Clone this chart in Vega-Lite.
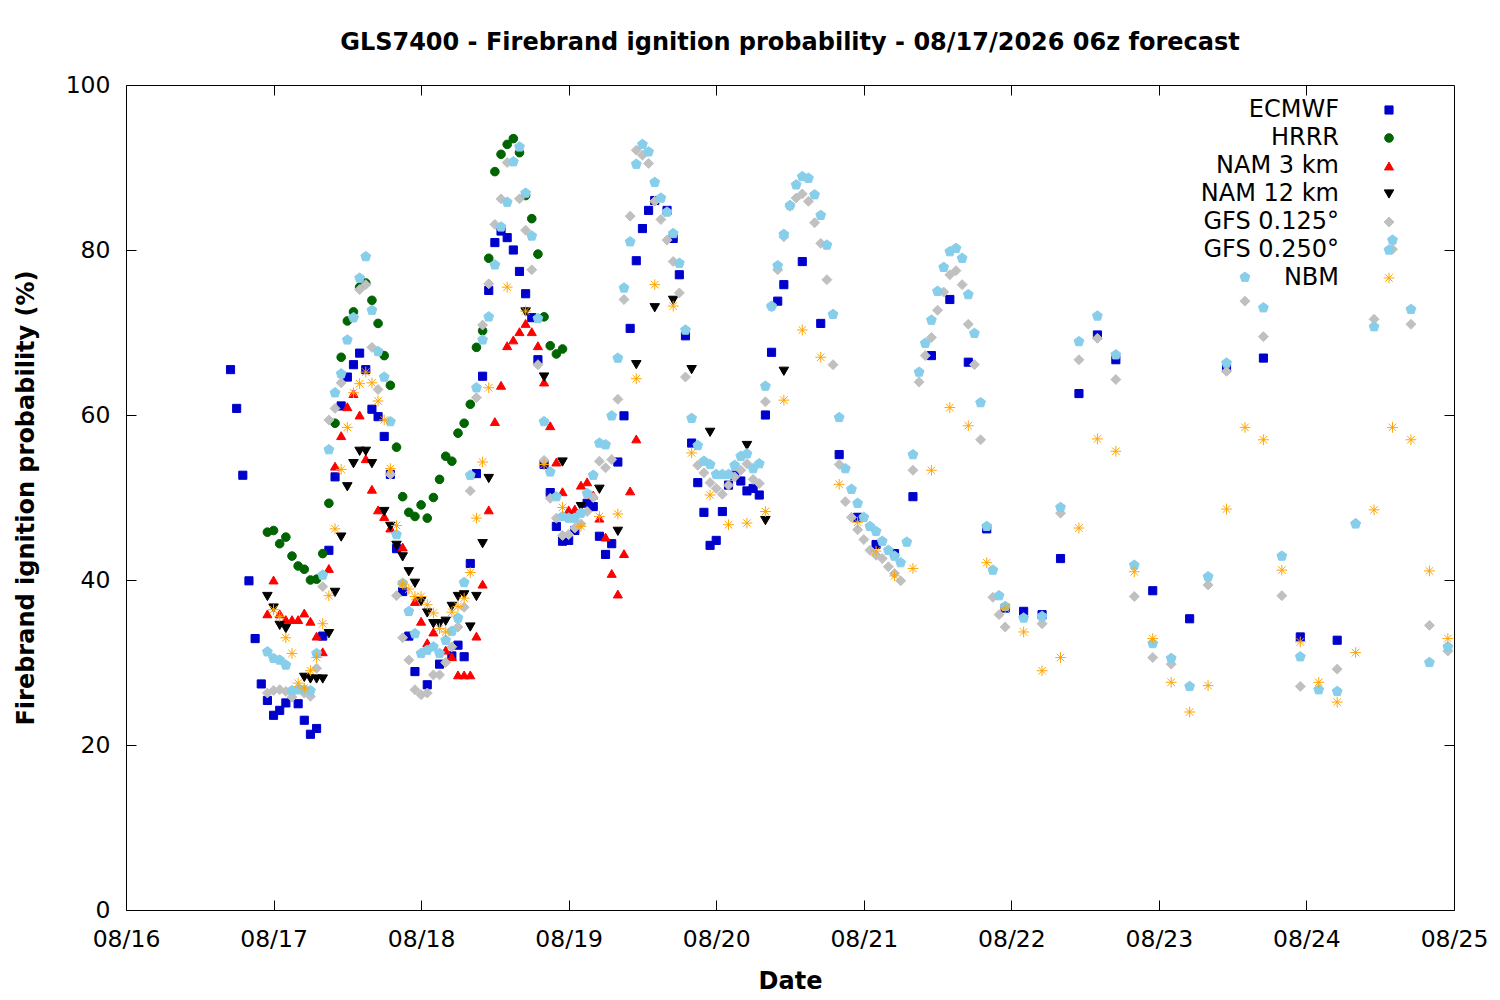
{
  "$schema": "https://vega.github.io/schema/vega-lite/v6.json",
  "width": 1328,
  "height": 825,
  "autosize": "none",
  "padding": {"left": 126, "top": 85, "right": 46, "bottom": 90},
  "title": {
    "text": "GLS7400 - Firebrand ignition probability - 08/17/2026 06z forecast",
    "font": "DejaVu Sans",
    "fontSize": 24,
    "fontWeight": "bold",
    "color": "black",
    "anchor": "middle",
    "offset": 18
  },
  "data": {
    "values": [
      {"model": "ECMWF", "time": "2026-08-16T17:00Z", "prob": 65.5},
      {"model": "ECMWF", "time": "2026-08-16T18:00Z", "prob": 60.8},
      {"model": "ECMWF", "time": "2026-08-16T19:00Z", "prob": 52.7},
      {"model": "ECMWF", "time": "2026-08-16T20:00Z", "prob": 39.9},
      {"model": "ECMWF", "time": "2026-08-16T21:00Z", "prob": 32.9},
      {"model": "ECMWF", "time": "2026-08-16T22:00Z", "prob": 27.4},
      {"model": "ECMWF", "time": "2026-08-16T23:00Z", "prob": 25.4},
      {"model": "ECMWF", "time": "2026-08-17T00:00Z", "prob": 23.6},
      {"model": "ECMWF", "time": "2026-08-17T01:00Z", "prob": 24.2},
      {"model": "ECMWF", "time": "2026-08-17T02:00Z", "prob": 25.1},
      {"model": "ECMWF", "time": "2026-08-17T04:00Z", "prob": 25.0},
      {"model": "ECMWF", "time": "2026-08-17T05:00Z", "prob": 23.0},
      {"model": "ECMWF", "time": "2026-08-17T06:00Z", "prob": 21.3},
      {"model": "ECMWF", "time": "2026-08-17T07:00Z", "prob": 22.0},
      {"model": "ECMWF", "time": "2026-08-17T08:00Z", "prob": 33.2},
      {"model": "ECMWF", "time": "2026-08-17T09:00Z", "prob": 43.6},
      {"model": "ECMWF", "time": "2026-08-17T10:00Z", "prob": 52.5},
      {"model": "ECMWF", "time": "2026-08-17T11:00Z", "prob": 61.1},
      {"model": "ECMWF", "time": "2026-08-17T12:00Z", "prob": 64.6},
      {"model": "ECMWF", "time": "2026-08-17T13:00Z", "prob": 66.1},
      {"model": "ECMWF", "time": "2026-08-17T14:00Z", "prob": 67.5},
      {"model": "ECMWF", "time": "2026-08-17T15:00Z", "prob": 65.5},
      {"model": "ECMWF", "time": "2026-08-17T16:00Z", "prob": 60.7},
      {"model": "ECMWF", "time": "2026-08-17T17:00Z", "prob": 59.8},
      {"model": "ECMWF", "time": "2026-08-17T18:00Z", "prob": 57.4},
      {"model": "ECMWF", "time": "2026-08-17T19:00Z", "prob": 52.8},
      {"model": "ECMWF", "time": "2026-08-17T20:00Z", "prob": 43.8},
      {"model": "ECMWF", "time": "2026-08-17T21:00Z", "prob": 38.6},
      {"model": "ECMWF", "time": "2026-08-17T22:00Z", "prob": 33.2},
      {"model": "ECMWF", "time": "2026-08-17T23:00Z", "prob": 28.9},
      {"model": "ECMWF", "time": "2026-08-18T01:00Z", "prob": 27.3},
      {"model": "ECMWF", "time": "2026-08-18T03:00Z", "prob": 29.8},
      {"model": "ECMWF", "time": "2026-08-18T05:00Z", "prob": 30.8},
      {"model": "ECMWF", "time": "2026-08-18T06:00Z", "prob": 32.1},
      {"model": "ECMWF", "time": "2026-08-18T07:00Z", "prob": 30.7},
      {"model": "ECMWF", "time": "2026-08-18T08:00Z", "prob": 42.0},
      {"model": "ECMWF", "time": "2026-08-18T09:00Z", "prob": 52.9},
      {"model": "ECMWF", "time": "2026-08-18T10:00Z", "prob": 64.7},
      {"model": "ECMWF", "time": "2026-08-18T11:00Z", "prob": 75.1},
      {"model": "ECMWF", "time": "2026-08-18T12:00Z", "prob": 80.9},
      {"model": "ECMWF", "time": "2026-08-18T13:00Z", "prob": 82.3},
      {"model": "ECMWF", "time": "2026-08-18T14:00Z", "prob": 81.5},
      {"model": "ECMWF", "time": "2026-08-18T15:00Z", "prob": 80.0},
      {"model": "ECMWF", "time": "2026-08-18T16:00Z", "prob": 77.4},
      {"model": "ECMWF", "time": "2026-08-18T17:00Z", "prob": 74.7},
      {"model": "ECMWF", "time": "2026-08-18T18:00Z", "prob": 71.8},
      {"model": "ECMWF", "time": "2026-08-18T19:00Z", "prob": 66.7},
      {"model": "ECMWF", "time": "2026-08-18T20:00Z", "prob": 54.0},
      {"model": "ECMWF", "time": "2026-08-18T21:00Z", "prob": 50.6},
      {"model": "ECMWF", "time": "2026-08-18T22:00Z", "prob": 46.5},
      {"model": "ECMWF", "time": "2026-08-18T23:00Z", "prob": 44.7},
      {"model": "ECMWF", "time": "2026-08-19T00:00Z", "prob": 44.8},
      {"model": "ECMWF", "time": "2026-08-19T01:00Z", "prob": 46.0},
      {"model": "ECMWF", "time": "2026-08-19T03:00Z", "prob": 49.3},
      {"model": "ECMWF", "time": "2026-08-19T04:00Z", "prob": 48.9},
      {"model": "ECMWF", "time": "2026-08-19T05:00Z", "prob": 45.3},
      {"model": "ECMWF", "time": "2026-08-19T06:00Z", "prob": 43.1},
      {"model": "ECMWF", "time": "2026-08-19T07:00Z", "prob": 44.4},
      {"model": "ECMWF", "time": "2026-08-19T08:00Z", "prob": 54.3},
      {"model": "ECMWF", "time": "2026-08-19T09:00Z", "prob": 59.9},
      {"model": "ECMWF", "time": "2026-08-19T10:00Z", "prob": 70.5},
      {"model": "ECMWF", "time": "2026-08-19T11:00Z", "prob": 78.7},
      {"model": "ECMWF", "time": "2026-08-19T12:00Z", "prob": 82.6},
      {"model": "ECMWF", "time": "2026-08-19T13:00Z", "prob": 84.8},
      {"model": "ECMWF", "time": "2026-08-19T14:00Z", "prob": 86.0},
      {"model": "ECMWF", "time": "2026-08-19T16:00Z", "prob": 84.8},
      {"model": "ECMWF", "time": "2026-08-19T17:00Z", "prob": 81.4},
      {"model": "ECMWF", "time": "2026-08-19T18:00Z", "prob": 77.0},
      {"model": "ECMWF", "time": "2026-08-19T19:00Z", "prob": 69.6},
      {"model": "ECMWF", "time": "2026-08-19T20:00Z", "prob": 56.6},
      {"model": "ECMWF", "time": "2026-08-19T21:00Z", "prob": 51.8},
      {"model": "ECMWF", "time": "2026-08-19T22:00Z", "prob": 48.2},
      {"model": "ECMWF", "time": "2026-08-19T23:00Z", "prob": 44.2},
      {"model": "ECMWF", "time": "2026-08-20T00:00Z", "prob": 44.8},
      {"model": "ECMWF", "time": "2026-08-20T01:00Z", "prob": 48.3},
      {"model": "ECMWF", "time": "2026-08-20T02:00Z", "prob": 51.5},
      {"model": "ECMWF", "time": "2026-08-20T03:00Z", "prob": 52.7},
      {"model": "ECMWF", "time": "2026-08-20T04:00Z", "prob": 52.0},
      {"model": "ECMWF", "time": "2026-08-20T05:00Z", "prob": 50.8},
      {"model": "ECMWF", "time": "2026-08-20T06:00Z", "prob": 51.1},
      {"model": "ECMWF", "time": "2026-08-20T07:00Z", "prob": 50.3},
      {"model": "ECMWF", "time": "2026-08-20T08:00Z", "prob": 60.0},
      {"model": "ECMWF", "time": "2026-08-20T09:00Z", "prob": 67.6},
      {"model": "ECMWF", "time": "2026-08-20T10:00Z", "prob": 73.8},
      {"model": "ECMWF", "time": "2026-08-20T11:00Z", "prob": 75.8},
      {"model": "ECMWF", "time": "2026-08-20T14:00Z", "prob": 78.6},
      {"model": "ECMWF", "time": "2026-08-20T17:00Z", "prob": 71.1},
      {"model": "ECMWF", "time": "2026-08-20T20:00Z", "prob": 55.2},
      {"model": "ECMWF", "time": "2026-08-20T23:00Z", "prob": 47.6},
      {"model": "ECMWF", "time": "2026-08-21T02:00Z", "prob": 44.3},
      {"model": "ECMWF", "time": "2026-08-21T05:00Z", "prob": 43.2},
      {"model": "ECMWF", "time": "2026-08-21T08:00Z", "prob": 50.1},
      {"model": "ECMWF", "time": "2026-08-21T11:00Z", "prob": 67.2},
      {"model": "ECMWF", "time": "2026-08-21T14:00Z", "prob": 74.0},
      {"model": "ECMWF", "time": "2026-08-21T17:00Z", "prob": 66.4},
      {"model": "ECMWF", "time": "2026-08-21T20:00Z", "prob": 46.2},
      {"model": "ECMWF", "time": "2026-08-21T23:00Z", "prob": 36.6},
      {"model": "ECMWF", "time": "2026-08-22T02:00Z", "prob": 36.2},
      {"model": "ECMWF", "time": "2026-08-22T05:00Z", "prob": 35.8},
      {"model": "ECMWF", "time": "2026-08-22T08:00Z", "prob": 42.6},
      {"model": "ECMWF", "time": "2026-08-22T11:00Z", "prob": 62.6},
      {"model": "ECMWF", "time": "2026-08-22T14:00Z", "prob": 69.7},
      {"model": "ECMWF", "time": "2026-08-22T17:00Z", "prob": 66.7},
      {"model": "ECMWF", "time": "2026-08-22T23:00Z", "prob": 38.7},
      {"model": "ECMWF", "time": "2026-08-23T05:00Z", "prob": 35.3},
      {"model": "ECMWF", "time": "2026-08-23T11:00Z", "prob": 65.7},
      {"model": "ECMWF", "time": "2026-08-23T17:00Z", "prob": 66.9},
      {"model": "ECMWF", "time": "2026-08-23T23:00Z", "prob": 33.1},
      {"model": "ECMWF", "time": "2026-08-24T05:00Z", "prob": 32.7},

      {"model": "HRRR", "time": "2026-08-16T23:00Z", "prob": 45.8},
      {"model": "HRRR", "time": "2026-08-17T00:00Z", "prob": 46.0},
      {"model": "HRRR", "time": "2026-08-17T01:00Z", "prob": 44.4},
      {"model": "HRRR", "time": "2026-08-17T02:00Z", "prob": 45.2},
      {"model": "HRRR", "time": "2026-08-17T03:00Z", "prob": 42.9},
      {"model": "HRRR", "time": "2026-08-17T04:00Z", "prob": 41.7},
      {"model": "HRRR", "time": "2026-08-17T05:00Z", "prob": 41.3},
      {"model": "HRRR", "time": "2026-08-17T06:00Z", "prob": 40.0},
      {"model": "HRRR", "time": "2026-08-17T07:00Z", "prob": 40.1},
      {"model": "HRRR", "time": "2026-08-17T08:00Z", "prob": 43.2},
      {"model": "HRRR", "time": "2026-08-17T09:00Z", "prob": 49.3},
      {"model": "HRRR", "time": "2026-08-17T10:00Z", "prob": 59.0},
      {"model": "HRRR", "time": "2026-08-17T11:00Z", "prob": 67.0},
      {"model": "HRRR", "time": "2026-08-17T12:00Z", "prob": 71.4},
      {"model": "HRRR", "time": "2026-08-17T13:00Z", "prob": 72.5},
      {"model": "HRRR", "time": "2026-08-17T14:00Z", "prob": 75.5},
      {"model": "HRRR", "time": "2026-08-17T15:00Z", "prob": 76.0},
      {"model": "HRRR", "time": "2026-08-17T16:00Z", "prob": 73.9},
      {"model": "HRRR", "time": "2026-08-17T17:00Z", "prob": 71.1},
      {"model": "HRRR", "time": "2026-08-17T18:00Z", "prob": 67.2},
      {"model": "HRRR", "time": "2026-08-17T19:00Z", "prob": 63.6},
      {"model": "HRRR", "time": "2026-08-17T20:00Z", "prob": 56.1},
      {"model": "HRRR", "time": "2026-08-17T21:00Z", "prob": 50.1},
      {"model": "HRRR", "time": "2026-08-17T22:00Z", "prob": 48.2},
      {"model": "HRRR", "time": "2026-08-17T23:00Z", "prob": 47.7},
      {"model": "HRRR", "time": "2026-08-18T00:00Z", "prob": 49.1},
      {"model": "HRRR", "time": "2026-08-18T01:00Z", "prob": 47.5},
      {"model": "HRRR", "time": "2026-08-18T02:00Z", "prob": 50.0},
      {"model": "HRRR", "time": "2026-08-18T03:00Z", "prob": 52.2},
      {"model": "HRRR", "time": "2026-08-18T04:00Z", "prob": 55.0},
      {"model": "HRRR", "time": "2026-08-18T05:00Z", "prob": 54.4},
      {"model": "HRRR", "time": "2026-08-18T06:00Z", "prob": 57.8},
      {"model": "HRRR", "time": "2026-08-18T07:00Z", "prob": 59.0},
      {"model": "HRRR", "time": "2026-08-18T08:00Z", "prob": 61.3},
      {"model": "HRRR", "time": "2026-08-18T09:00Z", "prob": 68.2},
      {"model": "HRRR", "time": "2026-08-18T10:00Z", "prob": 70.2},
      {"model": "HRRR", "time": "2026-08-18T11:00Z", "prob": 79.0},
      {"model": "HRRR", "time": "2026-08-18T12:00Z", "prob": 89.5},
      {"model": "HRRR", "time": "2026-08-18T13:00Z", "prob": 91.6},
      {"model": "HRRR", "time": "2026-08-18T14:00Z", "prob": 92.8},
      {"model": "HRRR", "time": "2026-08-18T15:00Z", "prob": 93.5},
      {"model": "HRRR", "time": "2026-08-18T16:00Z", "prob": 91.8},
      {"model": "HRRR", "time": "2026-08-18T17:00Z", "prob": 86.6},
      {"model": "HRRR", "time": "2026-08-18T18:00Z", "prob": 83.8},
      {"model": "HRRR", "time": "2026-08-18T19:00Z", "prob": 79.5},
      {"model": "HRRR", "time": "2026-08-18T20:00Z", "prob": 71.9},
      {"model": "HRRR", "time": "2026-08-18T21:00Z", "prob": 68.4},
      {"model": "HRRR", "time": "2026-08-18T22:00Z", "prob": 67.4},
      {"model": "HRRR", "time": "2026-08-18T23:00Z", "prob": 68.0},

      {"model": "NAM 3 km", "time": "2026-08-16T23:00Z", "prob": 35.9},
      {"model": "NAM 3 km", "time": "2026-08-17T00:00Z", "prob": 40.0},
      {"model": "NAM 3 km", "time": "2026-08-17T01:00Z", "prob": 35.9},
      {"model": "NAM 3 km", "time": "2026-08-17T02:00Z", "prob": 35.2},
      {"model": "NAM 3 km", "time": "2026-08-17T03:00Z", "prob": 35.2},
      {"model": "NAM 3 km", "time": "2026-08-17T04:00Z", "prob": 35.2},
      {"model": "NAM 3 km", "time": "2026-08-17T05:00Z", "prob": 36.0},
      {"model": "NAM 3 km", "time": "2026-08-17T06:00Z", "prob": 35.0},
      {"model": "NAM 3 km", "time": "2026-08-17T07:00Z", "prob": 33.2},
      {"model": "NAM 3 km", "time": "2026-08-17T08:00Z", "prob": 31.3},
      {"model": "NAM 3 km", "time": "2026-08-17T09:00Z", "prob": 41.4},
      {"model": "NAM 3 km", "time": "2026-08-17T10:00Z", "prob": 53.8},
      {"model": "NAM 3 km", "time": "2026-08-17T11:00Z", "prob": 57.5},
      {"model": "NAM 3 km", "time": "2026-08-17T12:00Z", "prob": 61.0},
      {"model": "NAM 3 km", "time": "2026-08-17T13:00Z", "prob": 62.6},
      {"model": "NAM 3 km", "time": "2026-08-17T14:00Z", "prob": 60.0},
      {"model": "NAM 3 km", "time": "2026-08-17T15:00Z", "prob": 54.7},
      {"model": "NAM 3 km", "time": "2026-08-17T16:00Z", "prob": 51.0},
      {"model": "NAM 3 km", "time": "2026-08-17T17:00Z", "prob": 48.5},
      {"model": "NAM 3 km", "time": "2026-08-17T18:00Z", "prob": 47.7},
      {"model": "NAM 3 km", "time": "2026-08-17T19:00Z", "prob": 46.3},
      {"model": "NAM 3 km", "time": "2026-08-17T21:00Z", "prob": 44.0},
      {"model": "NAM 3 km", "time": "2026-08-17T23:00Z", "prob": 37.4},
      {"model": "NAM 3 km", "time": "2026-08-18T00:00Z", "prob": 35.0},
      {"model": "NAM 3 km", "time": "2026-08-18T01:00Z", "prob": 32.4},
      {"model": "NAM 3 km", "time": "2026-08-18T02:00Z", "prob": 33.7},
      {"model": "NAM 3 km", "time": "2026-08-18T04:00Z", "prob": 31.5},
      {"model": "NAM 3 km", "time": "2026-08-18T05:00Z", "prob": 30.7},
      {"model": "NAM 3 km", "time": "2026-08-18T06:00Z", "prob": 28.5},
      {"model": "NAM 3 km", "time": "2026-08-18T07:00Z", "prob": 28.5},
      {"model": "NAM 3 km", "time": "2026-08-18T08:00Z", "prob": 28.5},
      {"model": "NAM 3 km", "time": "2026-08-18T09:00Z", "prob": 33.2},
      {"model": "NAM 3 km", "time": "2026-08-18T10:00Z", "prob": 39.5},
      {"model": "NAM 3 km", "time": "2026-08-18T11:00Z", "prob": 48.5},
      {"model": "NAM 3 km", "time": "2026-08-18T12:00Z", "prob": 59.2},
      {"model": "NAM 3 km", "time": "2026-08-18T13:00Z", "prob": 63.6},
      {"model": "NAM 3 km", "time": "2026-08-18T14:00Z", "prob": 68.4},
      {"model": "NAM 3 km", "time": "2026-08-18T15:00Z", "prob": 69.1},
      {"model": "NAM 3 km", "time": "2026-08-18T16:00Z", "prob": 70.1},
      {"model": "NAM 3 km", "time": "2026-08-18T17:00Z", "prob": 71.1},
      {"model": "NAM 3 km", "time": "2026-08-18T18:00Z", "prob": 70.1},
      {"model": "NAM 3 km", "time": "2026-08-18T19:00Z", "prob": 68.4},
      {"model": "NAM 3 km", "time": "2026-08-18T20:00Z", "prob": 64.0},
      {"model": "NAM 3 km", "time": "2026-08-18T21:00Z", "prob": 58.7},
      {"model": "NAM 3 km", "time": "2026-08-18T22:00Z", "prob": 54.3},
      {"model": "NAM 3 km", "time": "2026-08-18T23:00Z", "prob": 50.7},
      {"model": "NAM 3 km", "time": "2026-08-19T00:00Z", "prob": 48.5},
      {"model": "NAM 3 km", "time": "2026-08-19T01:00Z", "prob": 48.6},
      {"model": "NAM 3 km", "time": "2026-08-19T02:00Z", "prob": 51.5},
      {"model": "NAM 3 km", "time": "2026-08-19T03:00Z", "prob": 51.9},
      {"model": "NAM 3 km", "time": "2026-08-19T04:00Z", "prob": 50.3},
      {"model": "NAM 3 km", "time": "2026-08-19T05:00Z", "prob": 47.5},
      {"model": "NAM 3 km", "time": "2026-08-19T06:00Z", "prob": 45.2},
      {"model": "NAM 3 km", "time": "2026-08-19T07:00Z", "prob": 40.8},
      {"model": "NAM 3 km", "time": "2026-08-19T08:00Z", "prob": 38.3},
      {"model": "NAM 3 km", "time": "2026-08-19T09:00Z", "prob": 43.2},
      {"model": "NAM 3 km", "time": "2026-08-19T10:00Z", "prob": 50.8},
      {"model": "NAM 3 km", "time": "2026-08-19T11:00Z", "prob": 57.1},

      {"model": "NAM 12 km", "time": "2026-08-16T23:00Z", "prob": 38.0},
      {"model": "NAM 12 km", "time": "2026-08-17T00:00Z", "prob": 36.6},
      {"model": "NAM 12 km", "time": "2026-08-17T01:00Z", "prob": 34.5},
      {"model": "NAM 12 km", "time": "2026-08-17T02:00Z", "prob": 34.1},
      {"model": "NAM 12 km", "time": "2026-08-17T05:00Z", "prob": 28.2},
      {"model": "NAM 12 km", "time": "2026-08-17T06:00Z", "prob": 28.0},
      {"model": "NAM 12 km", "time": "2026-08-17T07:00Z", "prob": 28.0},
      {"model": "NAM 12 km", "time": "2026-08-17T08:00Z", "prob": 28.0},
      {"model": "NAM 12 km", "time": "2026-08-17T09:00Z", "prob": 33.5},
      {"model": "NAM 12 km", "time": "2026-08-17T10:00Z", "prob": 38.5},
      {"model": "NAM 12 km", "time": "2026-08-17T11:00Z", "prob": 45.2},
      {"model": "NAM 12 km", "time": "2026-08-17T12:00Z", "prob": 51.3},
      {"model": "NAM 12 km", "time": "2026-08-17T13:00Z", "prob": 54.1},
      {"model": "NAM 12 km", "time": "2026-08-17T14:00Z", "prob": 55.6},
      {"model": "NAM 12 km", "time": "2026-08-17T15:00Z", "prob": 55.6},
      {"model": "NAM 12 km", "time": "2026-08-17T16:00Z", "prob": 54.1},
      {"model": "NAM 12 km", "time": "2026-08-17T18:00Z", "prob": 48.3},
      {"model": "NAM 12 km", "time": "2026-08-17T19:00Z", "prob": 46.5},
      {"model": "NAM 12 km", "time": "2026-08-17T20:00Z", "prob": 44.2},
      {"model": "NAM 12 km", "time": "2026-08-17T21:00Z", "prob": 42.8},
      {"model": "NAM 12 km", "time": "2026-08-17T22:00Z", "prob": 41.0},
      {"model": "NAM 12 km", "time": "2026-08-17T23:00Z", "prob": 39.6},
      {"model": "NAM 12 km", "time": "2026-08-18T00:00Z", "prob": 37.4},
      {"model": "NAM 12 km", "time": "2026-08-18T01:00Z", "prob": 36.0},
      {"model": "NAM 12 km", "time": "2026-08-18T02:00Z", "prob": 34.7},
      {"model": "NAM 12 km", "time": "2026-08-18T03:00Z", "prob": 34.7},
      {"model": "NAM 12 km", "time": "2026-08-18T04:00Z", "prob": 35.0},
      {"model": "NAM 12 km", "time": "2026-08-18T05:00Z", "prob": 36.8},
      {"model": "NAM 12 km", "time": "2026-08-18T06:00Z", "prob": 38.0},
      {"model": "NAM 12 km", "time": "2026-08-18T07:00Z", "prob": 38.2},
      {"model": "NAM 12 km", "time": "2026-08-18T08:00Z", "prob": 34.3},
      {"model": "NAM 12 km", "time": "2026-08-18T09:00Z", "prob": 38.0},
      {"model": "NAM 12 km", "time": "2026-08-18T10:00Z", "prob": 44.4},
      {"model": "NAM 12 km", "time": "2026-08-18T11:00Z", "prob": 52.3},
      {"model": "NAM 12 km", "time": "2026-08-18T17:00Z", "prob": 72.5},
      {"model": "NAM 12 km", "time": "2026-08-18T20:00Z", "prob": 64.6},
      {"model": "NAM 12 km", "time": "2026-08-18T23:00Z", "prob": 54.3},
      {"model": "NAM 12 km", "time": "2026-08-19T02:00Z", "prob": 48.9},
      {"model": "NAM 12 km", "time": "2026-08-19T05:00Z", "prob": 51.0},
      {"model": "NAM 12 km", "time": "2026-08-19T08:00Z", "prob": 45.9},
      {"model": "NAM 12 km", "time": "2026-08-19T11:00Z", "prob": 66.1},
      {"model": "NAM 12 km", "time": "2026-08-19T14:00Z", "prob": 73.0},
      {"model": "NAM 12 km", "time": "2026-08-19T17:00Z", "prob": 73.9},
      {"model": "NAM 12 km", "time": "2026-08-19T20:00Z", "prob": 65.5},
      {"model": "NAM 12 km", "time": "2026-08-19T23:00Z", "prob": 57.9},
      {"model": "NAM 12 km", "time": "2026-08-20T05:00Z", "prob": 56.3},
      {"model": "NAM 12 km", "time": "2026-08-20T08:00Z", "prob": 47.2},
      {"model": "NAM 12 km", "time": "2026-08-20T11:00Z", "prob": 65.3},

      {"model": "GFS 0.125°", "time": "2026-08-16T23:00Z", "prob": 26.3},
      {"model": "GFS 0.125°", "time": "2026-08-17T00:00Z", "prob": 26.6},
      {"model": "GFS 0.125°", "time": "2026-08-17T01:00Z", "prob": 26.7},
      {"model": "GFS 0.125°", "time": "2026-08-17T02:00Z", "prob": 26.5},
      {"model": "GFS 0.125°", "time": "2026-08-17T03:00Z", "prob": 25.8},
      {"model": "GFS 0.125°", "time": "2026-08-17T05:00Z", "prob": 26.3},
      {"model": "GFS 0.125°", "time": "2026-08-17T06:00Z", "prob": 25.9},
      {"model": "GFS 0.125°", "time": "2026-08-17T07:00Z", "prob": 29.3},
      {"model": "GFS 0.125°", "time": "2026-08-17T08:00Z", "prob": 39.2},
      {"model": "GFS 0.125°", "time": "2026-08-17T09:00Z", "prob": 59.4},
      {"model": "GFS 0.125°", "time": "2026-08-17T10:00Z", "prob": 60.8},
      {"model": "GFS 0.125°", "time": "2026-08-17T11:00Z", "prob": 63.9},
      {"model": "GFS 0.125°", "time": "2026-08-17T13:00Z", "prob": 71.8},
      {"model": "GFS 0.125°", "time": "2026-08-17T14:00Z", "prob": 75.2},
      {"model": "GFS 0.125°", "time": "2026-08-17T15:00Z", "prob": 75.8},
      {"model": "GFS 0.125°", "time": "2026-08-17T16:00Z", "prob": 68.2},
      {"model": "GFS 0.125°", "time": "2026-08-17T17:00Z", "prob": 63.1},
      {"model": "GFS 0.125°", "time": "2026-08-17T19:00Z", "prob": 52.8},
      {"model": "GFS 0.125°", "time": "2026-08-17T20:00Z", "prob": 38.1},
      {"model": "GFS 0.125°", "time": "2026-08-17T21:00Z", "prob": 33.0},
      {"model": "GFS 0.125°", "time": "2026-08-17T22:00Z", "prob": 30.3},
      {"model": "GFS 0.125°", "time": "2026-08-17T23:00Z", "prob": 26.7},
      {"model": "GFS 0.125°", "time": "2026-08-18T00:00Z", "prob": 26.1},
      {"model": "GFS 0.125°", "time": "2026-08-18T01:00Z", "prob": 26.3},
      {"model": "GFS 0.125°", "time": "2026-08-18T02:00Z", "prob": 28.5},
      {"model": "GFS 0.125°", "time": "2026-08-18T03:00Z", "prob": 28.5},
      {"model": "GFS 0.125°", "time": "2026-08-18T04:00Z", "prob": 30.0},
      {"model": "GFS 0.125°", "time": "2026-08-18T05:00Z", "prob": 31.9},
      {"model": "GFS 0.125°", "time": "2026-08-18T06:00Z", "prob": 34.3},
      {"model": "GFS 0.125°", "time": "2026-08-18T07:00Z", "prob": 36.7},
      {"model": "GFS 0.125°", "time": "2026-08-18T08:00Z", "prob": 50.8},
      {"model": "GFS 0.125°", "time": "2026-08-18T09:00Z", "prob": 62.1},
      {"model": "GFS 0.125°", "time": "2026-08-18T10:00Z", "prob": 70.9},
      {"model": "GFS 0.125°", "time": "2026-08-18T11:00Z", "prob": 75.9},
      {"model": "GFS 0.125°", "time": "2026-08-18T12:00Z", "prob": 83.1},
      {"model": "GFS 0.125°", "time": "2026-08-18T13:00Z", "prob": 86.2},
      {"model": "GFS 0.125°", "time": "2026-08-18T14:00Z", "prob": 90.6},
      {"model": "GFS 0.125°", "time": "2026-08-18T16:00Z", "prob": 86.2},
      {"model": "GFS 0.125°", "time": "2026-08-18T17:00Z", "prob": 82.4},
      {"model": "GFS 0.125°", "time": "2026-08-18T18:00Z", "prob": 77.6},
      {"model": "GFS 0.125°", "time": "2026-08-18T19:00Z", "prob": 66.1},
      {"model": "GFS 0.125°", "time": "2026-08-18T20:00Z", "prob": 54.5},
      {"model": "GFS 0.125°", "time": "2026-08-18T21:00Z", "prob": 49.9},
      {"model": "GFS 0.125°", "time": "2026-08-18T22:00Z", "prob": 47.5},
      {"model": "GFS 0.125°", "time": "2026-08-18T23:00Z", "prob": 45.4},
      {"model": "GFS 0.125°", "time": "2026-08-19T00:00Z", "prob": 45.5},
      {"model": "GFS 0.125°", "time": "2026-08-19T01:00Z", "prob": 46.3},
      {"model": "GFS 0.125°", "time": "2026-08-19T02:00Z", "prob": 46.8},
      {"model": "GFS 0.125°", "time": "2026-08-19T03:00Z", "prob": 48.3},
      {"model": "GFS 0.125°", "time": "2026-08-19T04:00Z", "prob": 50.0},
      {"model": "GFS 0.125°", "time": "2026-08-19T05:00Z", "prob": 54.4},
      {"model": "GFS 0.125°", "time": "2026-08-19T06:00Z", "prob": 53.6},
      {"model": "GFS 0.125°", "time": "2026-08-19T07:00Z", "prob": 54.6},
      {"model": "GFS 0.125°", "time": "2026-08-19T08:00Z", "prob": 61.9},
      {"model": "GFS 0.125°", "time": "2026-08-19T09:00Z", "prob": 74.0},
      {"model": "GFS 0.125°", "time": "2026-08-19T10:00Z", "prob": 84.1},
      {"model": "GFS 0.125°", "time": "2026-08-19T11:00Z", "prob": 92.1},
      {"model": "GFS 0.125°", "time": "2026-08-19T12:00Z", "prob": 91.5},
      {"model": "GFS 0.125°", "time": "2026-08-19T13:00Z", "prob": 90.5},
      {"model": "GFS 0.125°", "time": "2026-08-19T14:00Z", "prob": 85.9},
      {"model": "GFS 0.125°", "time": "2026-08-19T15:00Z", "prob": 83.7},
      {"model": "GFS 0.125°", "time": "2026-08-19T16:00Z", "prob": 81.2},
      {"model": "GFS 0.125°", "time": "2026-08-19T17:00Z", "prob": 78.6},
      {"model": "GFS 0.125°", "time": "2026-08-19T18:00Z", "prob": 74.8},
      {"model": "GFS 0.125°", "time": "2026-08-19T19:00Z", "prob": 64.6},
      {"model": "GFS 0.125°", "time": "2026-08-19T21:00Z", "prob": 53.9},
      {"model": "GFS 0.125°", "time": "2026-08-19T22:00Z", "prob": 53.0},
      {"model": "GFS 0.125°", "time": "2026-08-19T23:00Z", "prob": 51.8},
      {"model": "GFS 0.125°", "time": "2026-08-20T00:00Z", "prob": 51.1},
      {"model": "GFS 0.125°", "time": "2026-08-20T01:00Z", "prob": 50.4},
      {"model": "GFS 0.125°", "time": "2026-08-20T02:00Z", "prob": 51.5},
      {"model": "GFS 0.125°", "time": "2026-08-20T03:00Z", "prob": 52.5},
      {"model": "GFS 0.125°", "time": "2026-08-20T04:00Z", "prob": 53.3},
      {"model": "GFS 0.125°", "time": "2026-08-20T05:00Z", "prob": 54.1},
      {"model": "GFS 0.125°", "time": "2026-08-20T06:00Z", "prob": 52.2},
      {"model": "GFS 0.125°", "time": "2026-08-20T07:00Z", "prob": 51.7},
      {"model": "GFS 0.125°", "time": "2026-08-20T08:00Z", "prob": 61.6},
      {"model": "GFS 0.125°", "time": "2026-08-20T09:00Z", "prob": 73.1},
      {"model": "GFS 0.125°", "time": "2026-08-20T10:00Z", "prob": 77.6},
      {"model": "GFS 0.125°", "time": "2026-08-20T11:00Z", "prob": 81.6},
      {"model": "GFS 0.125°", "time": "2026-08-20T12:00Z", "prob": 85.3},
      {"model": "GFS 0.125°", "time": "2026-08-20T13:00Z", "prob": 86.3},
      {"model": "GFS 0.125°", "time": "2026-08-20T14:00Z", "prob": 86.8},
      {"model": "GFS 0.125°", "time": "2026-08-20T15:00Z", "prob": 85.9},
      {"model": "GFS 0.125°", "time": "2026-08-20T16:00Z", "prob": 83.3},
      {"model": "GFS 0.125°", "time": "2026-08-20T17:00Z", "prob": 80.8},
      {"model": "GFS 0.125°", "time": "2026-08-20T18:00Z", "prob": 76.4},
      {"model": "GFS 0.125°", "time": "2026-08-20T19:00Z", "prob": 66.1},
      {"model": "GFS 0.125°", "time": "2026-08-20T20:00Z", "prob": 54.0},
      {"model": "GFS 0.125°", "time": "2026-08-20T21:00Z", "prob": 49.5},
      {"model": "GFS 0.125°", "time": "2026-08-20T22:00Z", "prob": 47.6},
      {"model": "GFS 0.125°", "time": "2026-08-20T23:00Z", "prob": 46.1},
      {"model": "GFS 0.125°", "time": "2026-08-21T00:00Z", "prob": 44.9},
      {"model": "GFS 0.125°", "time": "2026-08-21T01:00Z", "prob": 43.6},
      {"model": "GFS 0.125°", "time": "2026-08-21T02:00Z", "prob": 43.0},
      {"model": "GFS 0.125°", "time": "2026-08-21T03:00Z", "prob": 42.6},
      {"model": "GFS 0.125°", "time": "2026-08-21T04:00Z", "prob": 41.6},
      {"model": "GFS 0.125°", "time": "2026-08-21T05:00Z", "prob": 40.8},
      {"model": "GFS 0.125°", "time": "2026-08-21T06:00Z", "prob": 39.9},
      {"model": "GFS 0.125°", "time": "2026-08-21T08:00Z", "prob": 53.3},
      {"model": "GFS 0.125°", "time": "2026-08-21T09:00Z", "prob": 64.0},
      {"model": "GFS 0.125°", "time": "2026-08-21T10:00Z", "prob": 67.2},
      {"model": "GFS 0.125°", "time": "2026-08-21T11:00Z", "prob": 69.4},
      {"model": "GFS 0.125°", "time": "2026-08-21T12:00Z", "prob": 72.7},
      {"model": "GFS 0.125°", "time": "2026-08-21T13:00Z", "prob": 74.9},
      {"model": "GFS 0.125°", "time": "2026-08-21T14:00Z", "prob": 77.0},
      {"model": "GFS 0.125°", "time": "2026-08-21T15:00Z", "prob": 77.5},
      {"model": "GFS 0.125°", "time": "2026-08-21T16:00Z", "prob": 75.8},
      {"model": "GFS 0.125°", "time": "2026-08-21T17:00Z", "prob": 71.0},
      {"model": "GFS 0.125°", "time": "2026-08-21T18:00Z", "prob": 66.1},
      {"model": "GFS 0.125°", "time": "2026-08-21T19:00Z", "prob": 57.0},
      {"model": "GFS 0.125°", "time": "2026-08-21T21:00Z", "prob": 37.9},
      {"model": "GFS 0.125°", "time": "2026-08-21T22:00Z", "prob": 35.8},
      {"model": "GFS 0.125°", "time": "2026-08-21T23:00Z", "prob": 34.3},
      {"model": "GFS 0.125°", "time": "2026-08-22T05:00Z", "prob": 34.7},
      {"model": "GFS 0.125°", "time": "2026-08-22T08:00Z", "prob": 48.1},
      {"model": "GFS 0.125°", "time": "2026-08-22T11:00Z", "prob": 66.7},
      {"model": "GFS 0.125°", "time": "2026-08-22T14:00Z", "prob": 69.3},
      {"model": "GFS 0.125°", "time": "2026-08-22T17:00Z", "prob": 64.3},
      {"model": "GFS 0.125°", "time": "2026-08-22T20:00Z", "prob": 38.0},
      {"model": "GFS 0.125°", "time": "2026-08-22T23:00Z", "prob": 30.6},
      {"model": "GFS 0.125°", "time": "2026-08-23T02:00Z", "prob": 29.8},
      {"model": "GFS 0.125°", "time": "2026-08-23T08:00Z", "prob": 39.4},
      {"model": "GFS 0.125°", "time": "2026-08-23T11:00Z", "prob": 65.3},
      {"model": "GFS 0.125°", "time": "2026-08-23T14:00Z", "prob": 73.8},
      {"model": "GFS 0.125°", "time": "2026-08-23T17:00Z", "prob": 69.5},
      {"model": "GFS 0.125°", "time": "2026-08-23T20:00Z", "prob": 38.1},
      {"model": "GFS 0.125°", "time": "2026-08-23T23:00Z", "prob": 27.1},
      {"model": "GFS 0.125°", "time": "2026-08-24T05:00Z", "prob": 29.2},
      {"model": "GFS 0.125°", "time": "2026-08-24T08:00Z", "prob": 46.9},
      {"model": "GFS 0.125°", "time": "2026-08-24T11:00Z", "prob": 71.6},
      {"model": "GFS 0.125°", "time": "2026-08-24T14:00Z", "prob": 80.1},
      {"model": "GFS 0.125°", "time": "2026-08-24T17:00Z", "prob": 71.0},
      {"model": "GFS 0.125°", "time": "2026-08-24T20:00Z", "prob": 34.5},
      {"model": "GFS 0.125°", "time": "2026-08-24T23:00Z", "prob": 31.4},

      {"model": "GFS 0.250°", "time": "2026-08-16T23:00Z", "prob": 31.3},
      {"model": "GFS 0.250°", "time": "2026-08-17T00:00Z", "prob": 30.5},
      {"model": "GFS 0.250°", "time": "2026-08-17T01:00Z", "prob": 30.3},
      {"model": "GFS 0.250°", "time": "2026-08-17T02:00Z", "prob": 29.7},
      {"model": "GFS 0.250°", "time": "2026-08-17T03:00Z", "prob": 26.6},
      {"model": "GFS 0.250°", "time": "2026-08-17T04:00Z", "prob": 26.7},
      {"model": "GFS 0.250°", "time": "2026-08-17T05:00Z", "prob": 26.7},
      {"model": "GFS 0.250°", "time": "2026-08-17T06:00Z", "prob": 26.6},
      {"model": "GFS 0.250°", "time": "2026-08-17T07:00Z", "prob": 31.1},
      {"model": "GFS 0.250°", "time": "2026-08-17T08:00Z", "prob": 40.6},
      {"model": "GFS 0.250°", "time": "2026-08-17T09:00Z", "prob": 55.8},
      {"model": "GFS 0.250°", "time": "2026-08-17T10:00Z", "prob": 62.7},
      {"model": "GFS 0.250°", "time": "2026-08-17T11:00Z", "prob": 65.0},
      {"model": "GFS 0.250°", "time": "2026-08-17T12:00Z", "prob": 69.1},
      {"model": "GFS 0.250°", "time": "2026-08-17T13:00Z", "prob": 71.8},
      {"model": "GFS 0.250°", "time": "2026-08-17T14:00Z", "prob": 76.6},
      {"model": "GFS 0.250°", "time": "2026-08-17T15:00Z", "prob": 79.2},
      {"model": "GFS 0.250°", "time": "2026-08-17T16:00Z", "prob": 72.7},
      {"model": "GFS 0.250°", "time": "2026-08-17T17:00Z", "prob": 67.7},
      {"model": "GFS 0.250°", "time": "2026-08-17T18:00Z", "prob": 64.6},
      {"model": "GFS 0.250°", "time": "2026-08-17T19:00Z", "prob": 59.2},
      {"model": "GFS 0.250°", "time": "2026-08-17T20:00Z", "prob": 45.5},
      {"model": "GFS 0.250°", "time": "2026-08-17T21:00Z", "prob": 39.6},
      {"model": "GFS 0.250°", "time": "2026-08-17T22:00Z", "prob": 36.2},
      {"model": "GFS 0.250°", "time": "2026-08-17T23:00Z", "prob": 33.5},
      {"model": "GFS 0.250°", "time": "2026-08-18T00:00Z", "prob": 31.1},
      {"model": "GFS 0.250°", "time": "2026-08-18T01:00Z", "prob": 31.5},
      {"model": "GFS 0.250°", "time": "2026-08-18T02:00Z", "prob": 31.9},
      {"model": "GFS 0.250°", "time": "2026-08-18T03:00Z", "prob": 31.1},
      {"model": "GFS 0.250°", "time": "2026-08-18T04:00Z", "prob": 32.7},
      {"model": "GFS 0.250°", "time": "2026-08-18T05:00Z", "prob": 33.8},
      {"model": "GFS 0.250°", "time": "2026-08-18T06:00Z", "prob": 35.4},
      {"model": "GFS 0.250°", "time": "2026-08-18T07:00Z", "prob": 39.7},
      {"model": "GFS 0.250°", "time": "2026-08-18T08:00Z", "prob": 52.7},
      {"model": "GFS 0.250°", "time": "2026-08-18T09:00Z", "prob": 63.3},
      {"model": "GFS 0.250°", "time": "2026-08-18T10:00Z", "prob": 69.1},
      {"model": "GFS 0.250°", "time": "2026-08-18T11:00Z", "prob": 71.9},
      {"model": "GFS 0.250°", "time": "2026-08-18T12:00Z", "prob": 78.2},
      {"model": "GFS 0.250°", "time": "2026-08-18T13:00Z", "prob": 82.8},
      {"model": "GFS 0.250°", "time": "2026-08-18T14:00Z", "prob": 85.8},
      {"model": "GFS 0.250°", "time": "2026-08-18T15:00Z", "prob": 90.7},
      {"model": "GFS 0.250°", "time": "2026-08-18T16:00Z", "prob": 92.5},
      {"model": "GFS 0.250°", "time": "2026-08-18T17:00Z", "prob": 86.9},
      {"model": "GFS 0.250°", "time": "2026-08-18T18:00Z", "prob": 81.7},
      {"model": "GFS 0.250°", "time": "2026-08-18T19:00Z", "prob": 71.7},
      {"model": "GFS 0.250°", "time": "2026-08-18T20:00Z", "prob": 59.2},
      {"model": "GFS 0.250°", "time": "2026-08-18T21:00Z", "prob": 53.1},
      {"model": "GFS 0.250°", "time": "2026-08-18T22:00Z", "prob": 50.1},
      {"model": "GFS 0.250°", "time": "2026-08-18T23:00Z", "prob": 47.7},
      {"model": "GFS 0.250°", "time": "2026-08-19T00:00Z", "prob": 47.5},
      {"model": "GFS 0.250°", "time": "2026-08-19T01:00Z", "prob": 47.5},
      {"model": "GFS 0.250°", "time": "2026-08-19T02:00Z", "prob": 48.1},
      {"model": "GFS 0.250°", "time": "2026-08-19T03:00Z", "prob": 50.5},
      {"model": "GFS 0.250°", "time": "2026-08-19T04:00Z", "prob": 52.7},
      {"model": "GFS 0.250°", "time": "2026-08-19T05:00Z", "prob": 56.6},
      {"model": "GFS 0.250°", "time": "2026-08-19T06:00Z", "prob": 56.4},
      {"model": "GFS 0.250°", "time": "2026-08-19T07:00Z", "prob": 59.9},
      {"model": "GFS 0.250°", "time": "2026-08-19T08:00Z", "prob": 66.9},
      {"model": "GFS 0.250°", "time": "2026-08-19T09:00Z", "prob": 75.4},
      {"model": "GFS 0.250°", "time": "2026-08-19T10:00Z", "prob": 81.0},
      {"model": "GFS 0.250°", "time": "2026-08-19T11:00Z", "prob": 90.4},
      {"model": "GFS 0.250°", "time": "2026-08-19T12:00Z", "prob": 92.8},
      {"model": "GFS 0.250°", "time": "2026-08-19T13:00Z", "prob": 91.9},
      {"model": "GFS 0.250°", "time": "2026-08-19T14:00Z", "prob": 88.2},
      {"model": "GFS 0.250°", "time": "2026-08-19T15:00Z", "prob": 86.3},
      {"model": "GFS 0.250°", "time": "2026-08-19T16:00Z", "prob": 84.6},
      {"model": "GFS 0.250°", "time": "2026-08-19T17:00Z", "prob": 82.0},
      {"model": "GFS 0.250°", "time": "2026-08-19T18:00Z", "prob": 78.4},
      {"model": "GFS 0.250°", "time": "2026-08-19T19:00Z", "prob": 70.3},
      {"model": "GFS 0.250°", "time": "2026-08-19T20:00Z", "prob": 59.6},
      {"model": "GFS 0.250°", "time": "2026-08-19T21:00Z", "prob": 56.3},
      {"model": "GFS 0.250°", "time": "2026-08-19T22:00Z", "prob": 54.4},
      {"model": "GFS 0.250°", "time": "2026-08-19T23:00Z", "prob": 54.0},
      {"model": "GFS 0.250°", "time": "2026-08-20T00:00Z", "prob": 52.8},
      {"model": "GFS 0.250°", "time": "2026-08-20T01:00Z", "prob": 52.8},
      {"model": "GFS 0.250°", "time": "2026-08-20T02:00Z", "prob": 52.8},
      {"model": "GFS 0.250°", "time": "2026-08-20T03:00Z", "prob": 53.9},
      {"model": "GFS 0.250°", "time": "2026-08-20T04:00Z", "prob": 55.0},
      {"model": "GFS 0.250°", "time": "2026-08-20T05:00Z", "prob": 55.3},
      {"model": "GFS 0.250°", "time": "2026-08-20T06:00Z", "prob": 53.5},
      {"model": "GFS 0.250°", "time": "2026-08-20T07:00Z", "prob": 54.1},
      {"model": "GFS 0.250°", "time": "2026-08-20T08:00Z", "prob": 63.5},
      {"model": "GFS 0.250°", "time": "2026-08-20T09:00Z", "prob": 73.2},
      {"model": "GFS 0.250°", "time": "2026-08-20T10:00Z", "prob": 78.1},
      {"model": "GFS 0.250°", "time": "2026-08-20T11:00Z", "prob": 81.9},
      {"model": "GFS 0.250°", "time": "2026-08-20T12:00Z", "prob": 85.4},
      {"model": "GFS 0.250°", "time": "2026-08-20T13:00Z", "prob": 87.9},
      {"model": "GFS 0.250°", "time": "2026-08-20T14:00Z", "prob": 88.9},
      {"model": "GFS 0.250°", "time": "2026-08-20T15:00Z", "prob": 88.7},
      {"model": "GFS 0.250°", "time": "2026-08-20T16:00Z", "prob": 86.7},
      {"model": "GFS 0.250°", "time": "2026-08-20T17:00Z", "prob": 84.2},
      {"model": "GFS 0.250°", "time": "2026-08-20T18:00Z", "prob": 80.6},
      {"model": "GFS 0.250°", "time": "2026-08-20T19:00Z", "prob": 72.2},
      {"model": "GFS 0.250°", "time": "2026-08-20T20:00Z", "prob": 59.7},
      {"model": "GFS 0.250°", "time": "2026-08-20T21:00Z", "prob": 53.5},
      {"model": "GFS 0.250°", "time": "2026-08-20T22:00Z", "prob": 51.0},
      {"model": "GFS 0.250°", "time": "2026-08-20T23:00Z", "prob": 49.3},
      {"model": "GFS 0.250°", "time": "2026-08-21T00:00Z", "prob": 47.6},
      {"model": "GFS 0.250°", "time": "2026-08-21T01:00Z", "prob": 46.5},
      {"model": "GFS 0.250°", "time": "2026-08-21T02:00Z", "prob": 45.9},
      {"model": "GFS 0.250°", "time": "2026-08-21T03:00Z", "prob": 44.7},
      {"model": "GFS 0.250°", "time": "2026-08-21T04:00Z", "prob": 43.6},
      {"model": "GFS 0.250°", "time": "2026-08-21T05:00Z", "prob": 42.9},
      {"model": "GFS 0.250°", "time": "2026-08-21T06:00Z", "prob": 42.1},
      {"model": "GFS 0.250°", "time": "2026-08-21T07:00Z", "prob": 44.6},
      {"model": "GFS 0.250°", "time": "2026-08-21T08:00Z", "prob": 55.2},
      {"model": "GFS 0.250°", "time": "2026-08-21T09:00Z", "prob": 65.2},
      {"model": "GFS 0.250°", "time": "2026-08-21T10:00Z", "prob": 68.7},
      {"model": "GFS 0.250°", "time": "2026-08-21T11:00Z", "prob": 71.5},
      {"model": "GFS 0.250°", "time": "2026-08-21T12:00Z", "prob": 75.0},
      {"model": "GFS 0.250°", "time": "2026-08-21T13:00Z", "prob": 77.9},
      {"model": "GFS 0.250°", "time": "2026-08-21T14:00Z", "prob": 79.8},
      {"model": "GFS 0.250°", "time": "2026-08-21T15:00Z", "prob": 80.2},
      {"model": "GFS 0.250°", "time": "2026-08-21T16:00Z", "prob": 79.0},
      {"model": "GFS 0.250°", "time": "2026-08-21T17:00Z", "prob": 74.6},
      {"model": "GFS 0.250°", "time": "2026-08-21T18:00Z", "prob": 69.9},
      {"model": "GFS 0.250°", "time": "2026-08-21T19:00Z", "prob": 61.5},
      {"model": "GFS 0.250°", "time": "2026-08-21T20:00Z", "prob": 46.5},
      {"model": "GFS 0.250°", "time": "2026-08-21T21:00Z", "prob": 41.2},
      {"model": "GFS 0.250°", "time": "2026-08-21T22:00Z", "prob": 38.1},
      {"model": "GFS 0.250°", "time": "2026-08-21T23:00Z", "prob": 36.8},
      {"model": "GFS 0.250°", "time": "2026-08-22T02:00Z", "prob": 35.4},
      {"model": "GFS 0.250°", "time": "2026-08-22T05:00Z", "prob": 35.6},
      {"model": "GFS 0.250°", "time": "2026-08-22T08:00Z", "prob": 48.8},
      {"model": "GFS 0.250°", "time": "2026-08-22T11:00Z", "prob": 68.9},
      {"model": "GFS 0.250°", "time": "2026-08-22T14:00Z", "prob": 72.0},
      {"model": "GFS 0.250°", "time": "2026-08-22T17:00Z", "prob": 67.3},
      {"model": "GFS 0.250°", "time": "2026-08-22T20:00Z", "prob": 41.8},
      {"model": "GFS 0.250°", "time": "2026-08-22T23:00Z", "prob": 32.3},
      {"model": "GFS 0.250°", "time": "2026-08-23T02:00Z", "prob": 30.5},
      {"model": "GFS 0.250°", "time": "2026-08-23T05:00Z", "prob": 27.1},
      {"model": "GFS 0.250°", "time": "2026-08-23T08:00Z", "prob": 40.4},
      {"model": "GFS 0.250°", "time": "2026-08-23T11:00Z", "prob": 66.3},
      {"model": "GFS 0.250°", "time": "2026-08-23T14:00Z", "prob": 76.7},
      {"model": "GFS 0.250°", "time": "2026-08-23T17:00Z", "prob": 73.0},
      {"model": "GFS 0.250°", "time": "2026-08-23T20:00Z", "prob": 42.9},
      {"model": "GFS 0.250°", "time": "2026-08-23T23:00Z", "prob": 30.7},
      {"model": "GFS 0.250°", "time": "2026-08-24T02:00Z", "prob": 26.7},
      {"model": "GFS 0.250°", "time": "2026-08-24T05:00Z", "prob": 26.5},
      {"model": "GFS 0.250°", "time": "2026-08-24T08:00Z", "prob": 46.8},
      {"model": "GFS 0.250°", "time": "2026-08-24T11:00Z", "prob": 70.7},
      {"model": "GFS 0.250°", "time": "2026-08-24T14:00Z", "prob": 81.2},
      {"model": "GFS 0.250°", "time": "2026-08-24T17:00Z", "prob": 72.8},
      {"model": "GFS 0.250°", "time": "2026-08-24T20:00Z", "prob": 30.0},
      {"model": "GFS 0.250°", "time": "2026-08-24T23:00Z", "prob": 31.9},

      {"model": "NBM", "time": "2026-08-17T00:00Z", "prob": 36.4},
      {"model": "NBM", "time": "2026-08-17T01:00Z", "prob": 35.6},
      {"model": "NBM", "time": "2026-08-17T02:00Z", "prob": 33.0},
      {"model": "NBM", "time": "2026-08-17T03:00Z", "prob": 31.1},
      {"model": "NBM", "time": "2026-08-17T04:00Z", "prob": 27.5},
      {"model": "NBM", "time": "2026-08-17T05:00Z", "prob": 26.9},
      {"model": "NBM", "time": "2026-08-17T06:00Z", "prob": 29.0},
      {"model": "NBM", "time": "2026-08-17T07:00Z", "prob": 30.6},
      {"model": "NBM", "time": "2026-08-17T08:00Z", "prob": 34.7},
      {"model": "NBM", "time": "2026-08-17T09:00Z", "prob": 38.1},
      {"model": "NBM", "time": "2026-08-17T10:00Z", "prob": 46.2},
      {"model": "NBM", "time": "2026-08-17T11:00Z", "prob": 53.4},
      {"model": "NBM", "time": "2026-08-17T12:00Z", "prob": 58.5},
      {"model": "NBM", "time": "2026-08-17T13:00Z", "prob": 62.7},
      {"model": "NBM", "time": "2026-08-17T14:00Z", "prob": 63.8},
      {"model": "NBM", "time": "2026-08-17T15:00Z", "prob": 65.2},
      {"model": "NBM", "time": "2026-08-17T16:00Z", "prob": 63.9},
      {"model": "NBM", "time": "2026-08-17T17:00Z", "prob": 61.7},
      {"model": "NBM", "time": "2026-08-17T18:00Z", "prob": 59.4},
      {"model": "NBM", "time": "2026-08-17T19:00Z", "prob": 53.5},
      {"model": "NBM", "time": "2026-08-17T20:00Z", "prob": 46.6},
      {"model": "NBM", "time": "2026-08-17T21:00Z", "prob": 39.5},
      {"model": "NBM", "time": "2026-08-17T22:00Z", "prob": 38.9},
      {"model": "NBM", "time": "2026-08-17T23:00Z", "prob": 38.0},
      {"model": "NBM", "time": "2026-08-18T00:00Z", "prob": 38.0},
      {"model": "NBM", "time": "2026-08-18T01:00Z", "prob": 37.0},
      {"model": "NBM", "time": "2026-08-18T02:00Z", "prob": 36.0},
      {"model": "NBM", "time": "2026-08-18T03:00Z", "prob": 34.1},
      {"model": "NBM", "time": "2026-08-18T04:00Z", "prob": 33.7},
      {"model": "NBM", "time": "2026-08-18T05:00Z", "prob": 36.1},
      {"model": "NBM", "time": "2026-08-18T06:00Z", "prob": 36.8},
      {"model": "NBM", "time": "2026-08-18T07:00Z", "prob": 37.8},
      {"model": "NBM", "time": "2026-08-18T08:00Z", "prob": 40.9},
      {"model": "NBM", "time": "2026-08-18T09:00Z", "prob": 47.5},
      {"model": "NBM", "time": "2026-08-18T10:00Z", "prob": 54.3},
      {"model": "NBM", "time": "2026-08-18T11:00Z", "prob": 63.3},
      {"model": "NBM", "time": "2026-08-18T14:00Z", "prob": 75.5},
      {"model": "NBM", "time": "2026-08-18T17:00Z", "prob": 72.6},
      {"model": "NBM", "time": "2026-08-18T20:00Z", "prob": 54.0},
      {"model": "NBM", "time": "2026-08-18T23:00Z", "prob": 48.8},
      {"model": "NBM", "time": "2026-08-19T02:00Z", "prob": 46.5},
      {"model": "NBM", "time": "2026-08-19T05:00Z", "prob": 47.7},
      {"model": "NBM", "time": "2026-08-19T08:00Z", "prob": 48.0},
      {"model": "NBM", "time": "2026-08-19T11:00Z", "prob": 64.4},
      {"model": "NBM", "time": "2026-08-19T14:00Z", "prob": 75.8},
      {"model": "NBM", "time": "2026-08-19T17:00Z", "prob": 73.2},
      {"model": "NBM", "time": "2026-08-19T20:00Z", "prob": 55.4},
      {"model": "NBM", "time": "2026-08-19T23:00Z", "prob": 50.3},
      {"model": "NBM", "time": "2026-08-20T02:00Z", "prob": 46.7},
      {"model": "NBM", "time": "2026-08-20T05:00Z", "prob": 46.9},
      {"model": "NBM", "time": "2026-08-20T08:00Z", "prob": 48.3},
      {"model": "NBM", "time": "2026-08-20T11:00Z", "prob": 61.8},
      {"model": "NBM", "time": "2026-08-20T14:00Z", "prob": 70.3},
      {"model": "NBM", "time": "2026-08-20T17:00Z", "prob": 67.0},
      {"model": "NBM", "time": "2026-08-20T20:00Z", "prob": 51.6},
      {"model": "NBM", "time": "2026-08-20T23:00Z", "prob": 47.0},
      {"model": "NBM", "time": "2026-08-21T02:00Z", "prob": 43.5},
      {"model": "NBM", "time": "2026-08-21T05:00Z", "prob": 40.5},
      {"model": "NBM", "time": "2026-08-21T08:00Z", "prob": 41.4},
      {"model": "NBM", "time": "2026-08-21T11:00Z", "prob": 53.3},
      {"model": "NBM", "time": "2026-08-21T14:00Z", "prob": 60.9},
      {"model": "NBM", "time": "2026-08-21T17:00Z", "prob": 58.7},
      {"model": "NBM", "time": "2026-08-21T20:00Z", "prob": 42.1},
      {"model": "NBM", "time": "2026-08-21T23:00Z", "prob": 36.6},
      {"model": "NBM", "time": "2026-08-22T02:00Z", "prob": 33.7},
      {"model": "NBM", "time": "2026-08-22T05:00Z", "prob": 29.0},
      {"model": "NBM", "time": "2026-08-22T08:00Z", "prob": 30.6},
      {"model": "NBM", "time": "2026-08-22T11:00Z", "prob": 46.3},
      {"model": "NBM", "time": "2026-08-22T14:00Z", "prob": 57.1},
      {"model": "NBM", "time": "2026-08-22T17:00Z", "prob": 55.6},
      {"model": "NBM", "time": "2026-08-22T20:00Z", "prob": 41.0},
      {"model": "NBM", "time": "2026-08-22T23:00Z", "prob": 32.9},
      {"model": "NBM", "time": "2026-08-23T02:00Z", "prob": 27.6},
      {"model": "NBM", "time": "2026-08-23T05:00Z", "prob": 24.0},
      {"model": "NBM", "time": "2026-08-23T08:00Z", "prob": 27.2},
      {"model": "NBM", "time": "2026-08-23T11:00Z", "prob": 48.6},
      {"model": "NBM", "time": "2026-08-23T14:00Z", "prob": 58.5},
      {"model": "NBM", "time": "2026-08-23T17:00Z", "prob": 57.0},
      {"model": "NBM", "time": "2026-08-23T20:00Z", "prob": 41.2},
      {"model": "NBM", "time": "2026-08-23T23:00Z", "prob": 32.5},
      {"model": "NBM", "time": "2026-08-24T02:00Z", "prob": 27.6},
      {"model": "NBM", "time": "2026-08-24T05:00Z", "prob": 25.2},
      {"model": "NBM", "time": "2026-08-24T08:00Z", "prob": 31.2},
      {"model": "NBM", "time": "2026-08-24T11:00Z", "prob": 48.5},
      {"model": "NBM", "time": "2026-08-24T14:00Z", "prob": 58.5},
      {"model": "NBM", "time": "2026-08-24T17:00Z", "prob": 57.0},
      {"model": "NBM", "time": "2026-08-24T20:00Z", "prob": 41.1},
      {"model": "NBM", "time": "2026-08-24T23:00Z", "prob": 32.9}
    ]
  },
  "layer": [
    {
      "mark": {"type": "point", "filled": true, "opacity": 1, "strokeWidth": 1},
      "encoding": {
        "x": {
          "field": "time",
          "type": "temporal",
          "title": "Date",
          "scale": {
            "type": "utc",
            "domain": [
              {"year": 2026, "month": 8, "date": 16, "utc": true},
              {"year": 2026, "month": 8, "date": 25, "utc": true}
            ],
            "nice": false
          },
          "axis": {
            "format": "%m/%d",
            "values": [
              {"year": 2026, "month": 8, "date": 16, "utc": true},
              {"year": 2026, "month": 8, "date": 17, "utc": true},
              {"year": 2026, "month": 8, "date": 18, "utc": true},
              {"year": 2026, "month": 8, "date": 19, "utc": true},
              {"year": 2026, "month": 8, "date": 20, "utc": true},
              {"year": 2026, "month": 8, "date": 21, "utc": true},
              {"year": 2026, "month": 8, "date": 22, "utc": true},
              {"year": 2026, "month": 8, "date": 23, "utc": true},
              {"year": 2026, "month": 8, "date": 24, "utc": true},
              {"year": 2026, "month": 8, "date": 25, "utc": true}
            ],
            "labelPadding": 27,
            "titlePadding": 19,
            "labelFlush": false
          }
        },
        "y": {
          "field": "prob",
          "type": "quantitative",
          "title": "Firebrand ignition probability (%)",
          "scale": {"domain": [0, 100], "nice": false},
          "axis": {"values": [0, 20, 40, 60, 80, 100], "labelPadding": 26, "titlePadding": 27}
        },
        "color": {
          "field": "model",
          "type": "nominal",
          "scale": {
            "domain": ["ECMWF", "HRRR", "NAM 3 km", "NAM 12 km", "GFS 0.125°", "GFS 0.250°", "NBM"],
            "range": ["#0000cd", "#006400", "#ff0000", "#000000", "#c0c0c0", "#87ceeb", "#ffa500"]
          },
          "legend": {"title": null}
        },
        "stroke": {
          "field": "model",
          "type": "nominal",
          "scale": {
            "domain": ["ECMWF", "HRRR", "NAM 3 km", "NAM 12 km", "GFS 0.125°", "GFS 0.250°", "NBM"],
            "range": ["#0000cd", "#006400", "#ff0000", "#000000", "#c0c0c0", "#87ceeb", "#ffa500"]
          },
          "legend": {"title": null}
        },
        "shape": {
          "field": "model",
          "type": "nominal",
          "scale": {
            "domain": ["ECMWF", "HRRR", "NAM 3 km", "NAM 12 km", "GFS 0.125°", "GFS 0.250°", "NBM"],
            "range": [
              "square",
              "circle",
              "triangle-up",
              "triangle-down",
              "diamond",
              "M0,-1L0.951,-0.309L0.588,0.809L-0.588,0.809L-0.951,-0.309Z",
              "M-1,0L1,0M0,-1L0,1M-0.7,-0.7L0.7,0.7M-0.7,0.7L0.7,-0.7"
            ]
          },
          "legend": {"title": null}
        },
        "size": {
          "field": "model",
          "type": "nominal",
          "scale": {
            "domain": ["ECMWF", "HRRR", "NAM 3 km", "NAM 12 km", "GFS 0.125°", "GFS 0.250°", "NBM"],
            "range": [66, 115, 130, 130, 85, 110, 165]
          },
          "legend": {"title": null}
        }
      }
    },
    {
      "mark": {"type": "point", "opacity": 0},
      "encoding": {
        "x": {
          "field": "time",
          "type": "temporal",
          "axis": {
            "orient": "top",
            "labels": false,
            "title": null,
            "values": [
              {"year": 2026, "month": 8, "date": 17, "utc": true},
              {"year": 2026, "month": 8, "date": 18, "utc": true},
              {"year": 2026, "month": 8, "date": 19, "utc": true},
              {"year": 2026, "month": 8, "date": 20, "utc": true},
              {"year": 2026, "month": 8, "date": 21, "utc": true},
              {"year": 2026, "month": 8, "date": 22, "utc": true},
              {"year": 2026, "month": 8, "date": 23, "utc": true},
              {"year": 2026, "month": 8, "date": 24, "utc": true}
            ]
          }
        },
        "y": {
          "field": "prob",
          "type": "quantitative",
          "axis": {"orient": "right", "labels": false, "title": null, "values": [20, 40, 60, 80]}
        }
      }
    }
  ],
  "resolve": {"axis": {"x": "independent", "y": "independent"}},
  "config": {
    "font": "DejaVu Sans",
    "view": {"stroke": "black", "strokeWidth": 1},
    "axis": {
      "labelFont": "DejaVu Sans",
      "labelFontSize": 23.5,
      "labelColor": "black",
      "titleFont": "DejaVu Sans",
      "titleFontSize": 24,
      "titleFontWeight": "bold",
      "titleColor": "black",
      "tickColor": "black",
      "tickSize": -10,
      "tickWidth": 1,
      "domain": false,
      "grid": false
    },
    "legend": {
      "orient": "none",
      "legendX": 1251,
      "legendY": 13,
      "labelFont": "DejaVu Sans",
      "labelFontSize": 24,
      "labelColor": "black",
      "labelAlign": "right",
      "labelOffset": -62,
      "rowPadding": 4,
      "symbolStrokeWidth": 1
    }
  }
}
